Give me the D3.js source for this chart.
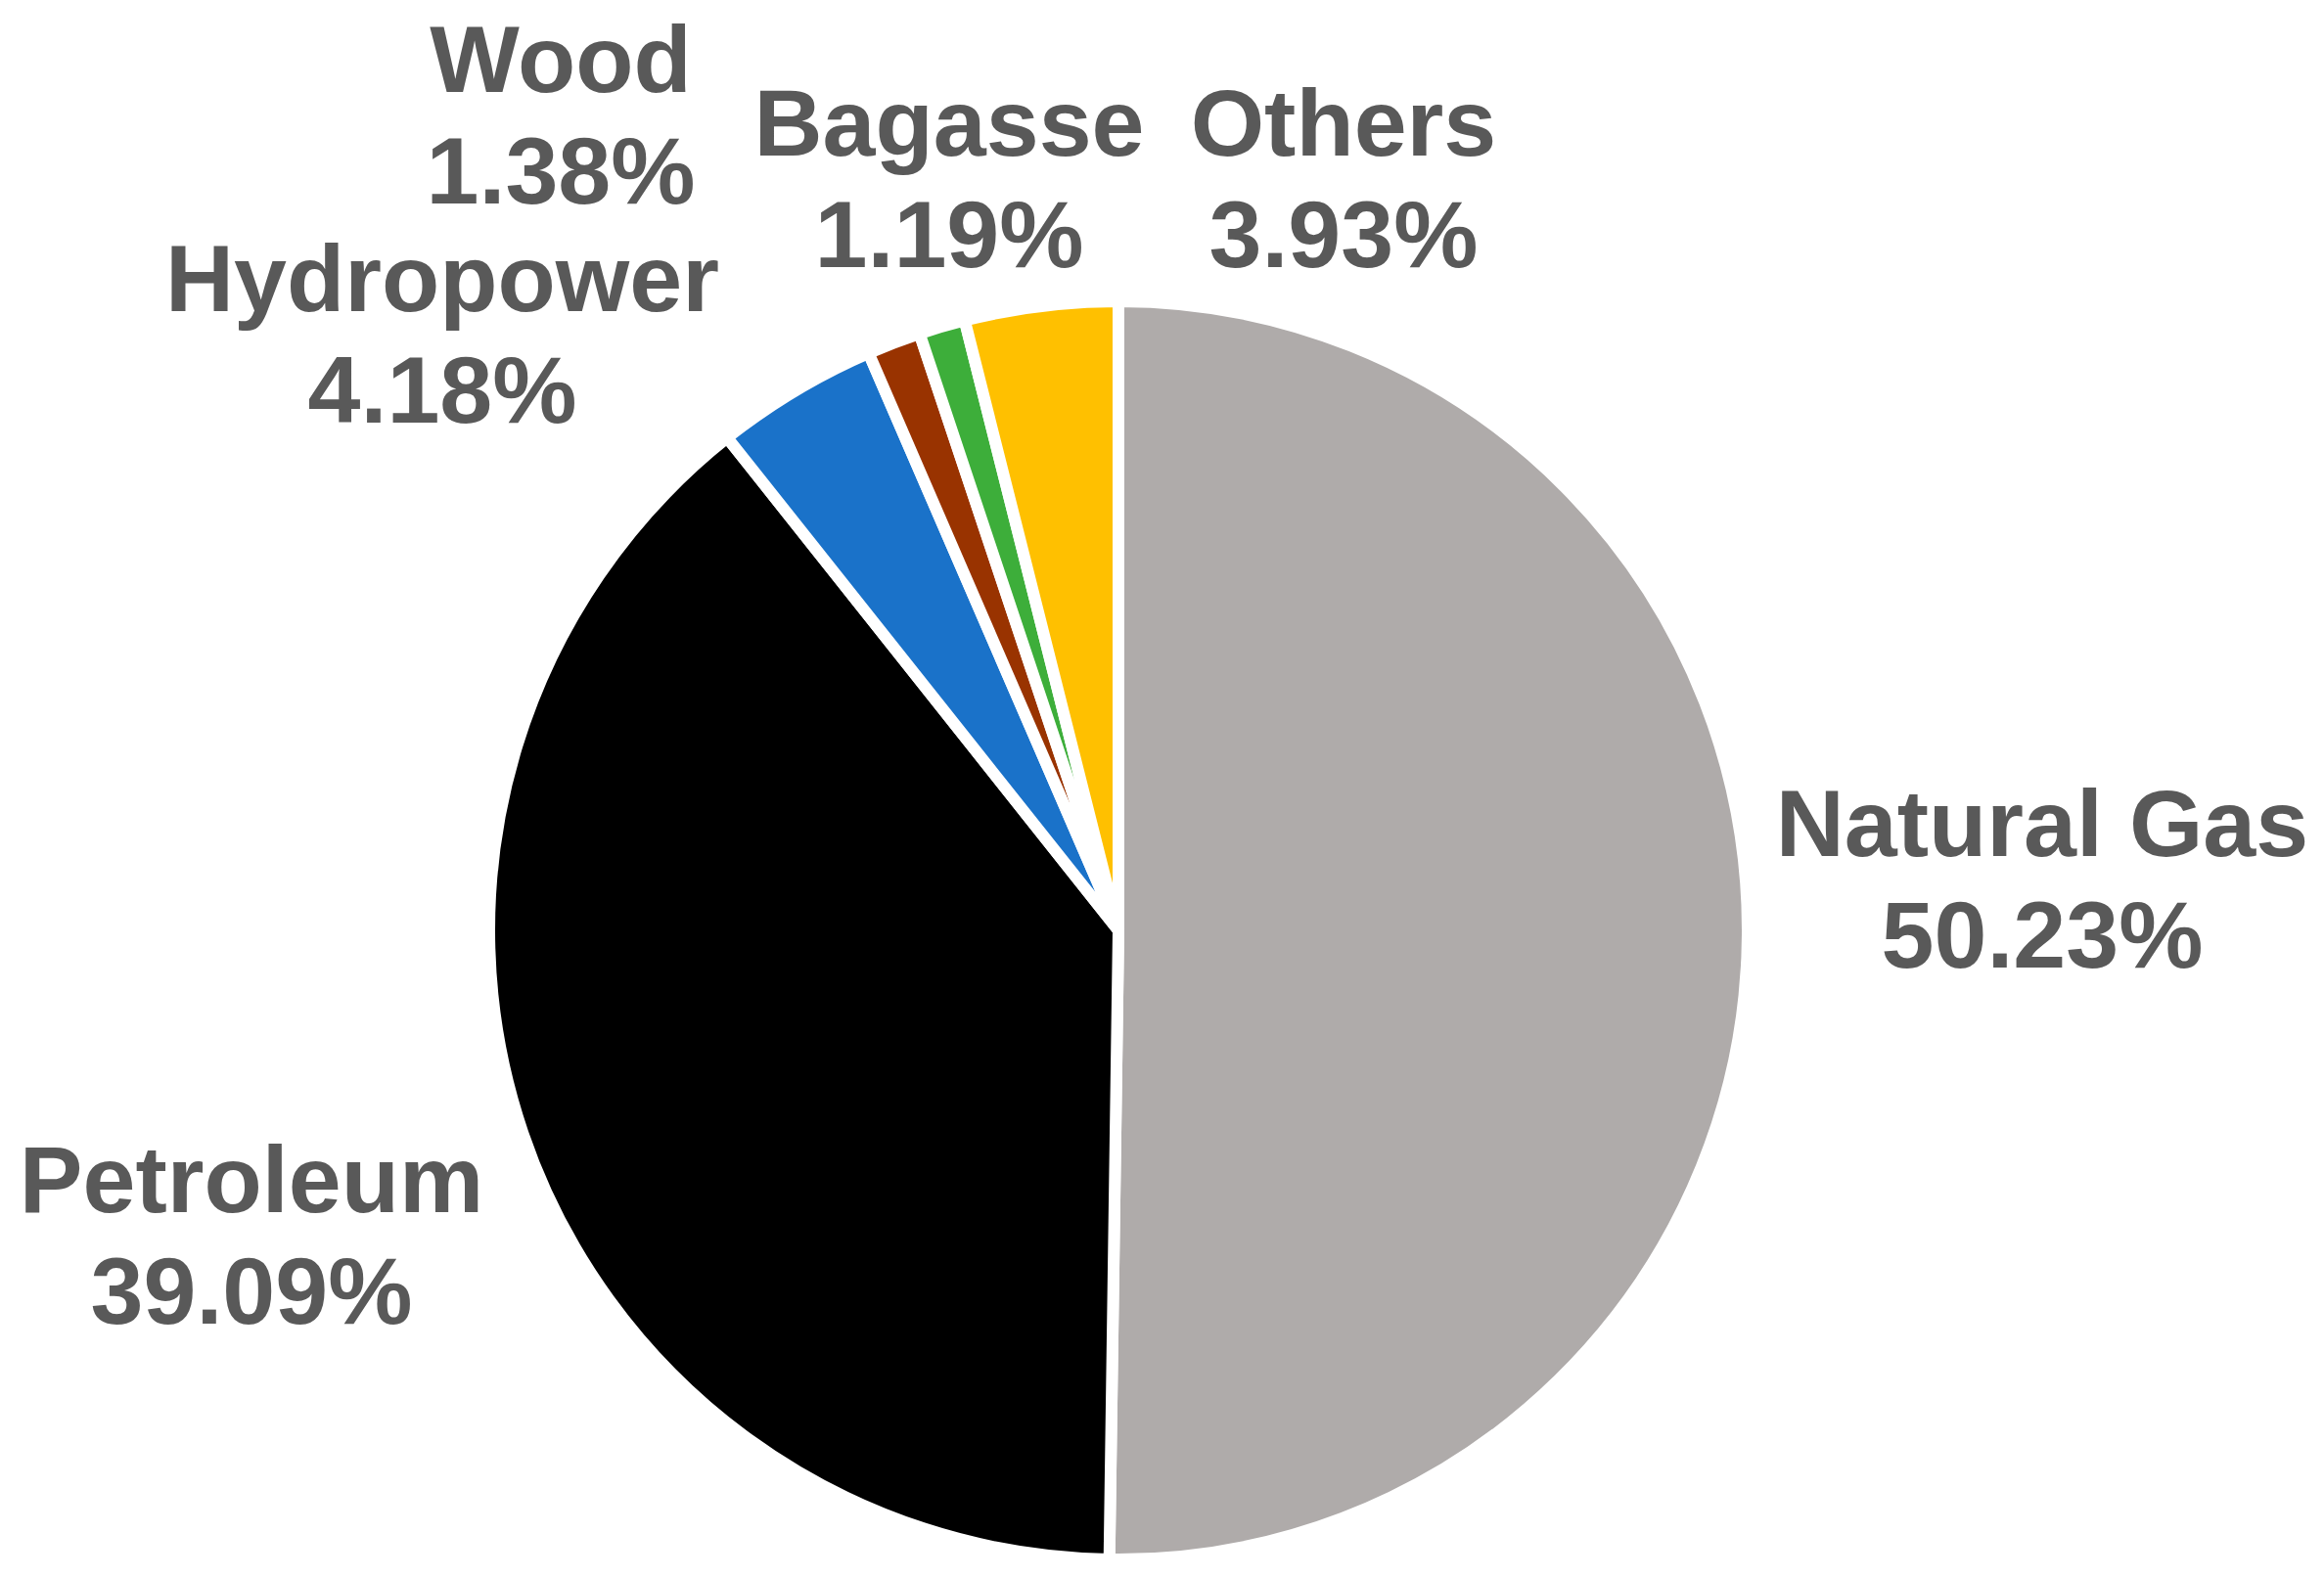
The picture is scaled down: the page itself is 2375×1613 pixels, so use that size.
<!DOCTYPE html>
<html>
<head>
<meta charset="utf-8">
<script src="https://cdn.jsdelivr.net/npm/d3@7"></script>
<style>
  html, body { margin: 0; padding: 0; background: #ffffff; }
  svg { display: block; }
</style>
</head>
<body>
<svg id="chart" width="2375" height="1613"></svg>
<script>
// ---- data ----
const categories = ["Natural Gas", "Petroleum", "Hydropower", "Wood", "Bagasse", "Others"];
const shares = [50.23, 39.09, 4.18, 1.38, 1.19, 3.93];
const percentLabels = ["50.23%", "39.09%", "4.18%", "1.38%", "1.19%", "3.93%"];
const colors = ["#AFABAA", "#000000", "#1A72C9", "#993300", "#3DAE3A", "#FFC000"];

// ---- layout (label anchor offsets from pie centre, first-line baseline) ----
const labelOffsets = [[944, -76], [-886, 288], [-691, -633], [-570, -857], [-173, -792], [230, -792]];

const W = 2375, H = 1613;
const cx = 1143, cy = 951;
const radius = 643;
const lineGap = 114;

const svg = d3.select("#chart");
const g = svg.append("g").attr("transform", `translate(${cx},${cy})`);

const data = categories.map((c, i) => ({ name: c, value: shares[i], pct: percentLabels[i], color: colors[i], off: labelOffsets[i] }));

const pie = d3.pie().value(d => d.value).sort(null).startAngle(0).endAngle(2 * Math.PI);
const arc = d3.arc().innerRadius(0).outerRadius(radius);

g.selectAll("path.slice")
  .data(pie(data))
  .join("path")
  .attr("class", "slice")
  .attr("d", arc)
  .attr("fill", d => d.data.color)
  .attr("stroke", "#ffffff")
  .attr("stroke-width", 12)
  .attr("stroke-linejoin", "miter");

const labels = g.selectAll("text.lbl")
  .data(data)
  .join("text")
  .attr("class", "lbl")
  .attr("text-anchor", "middle")
  .attr("font-family", "'Liberation Sans', Arial, sans-serif")
  .attr("font-weight", "bold")
  .attr("font-size", 97)
  .attr("fill", "#595959");

labels.append("tspan")
  .attr("x", d => d.off[0])
  .attr("y", d => d.off[1])
  .text(d => d.name);
labels.append("tspan")
  .attr("x", d => d.off[0])
  .attr("y", d => d.off[1] + lineGap)
  .text(d => d.pct);
</script>
</body>
</html>
